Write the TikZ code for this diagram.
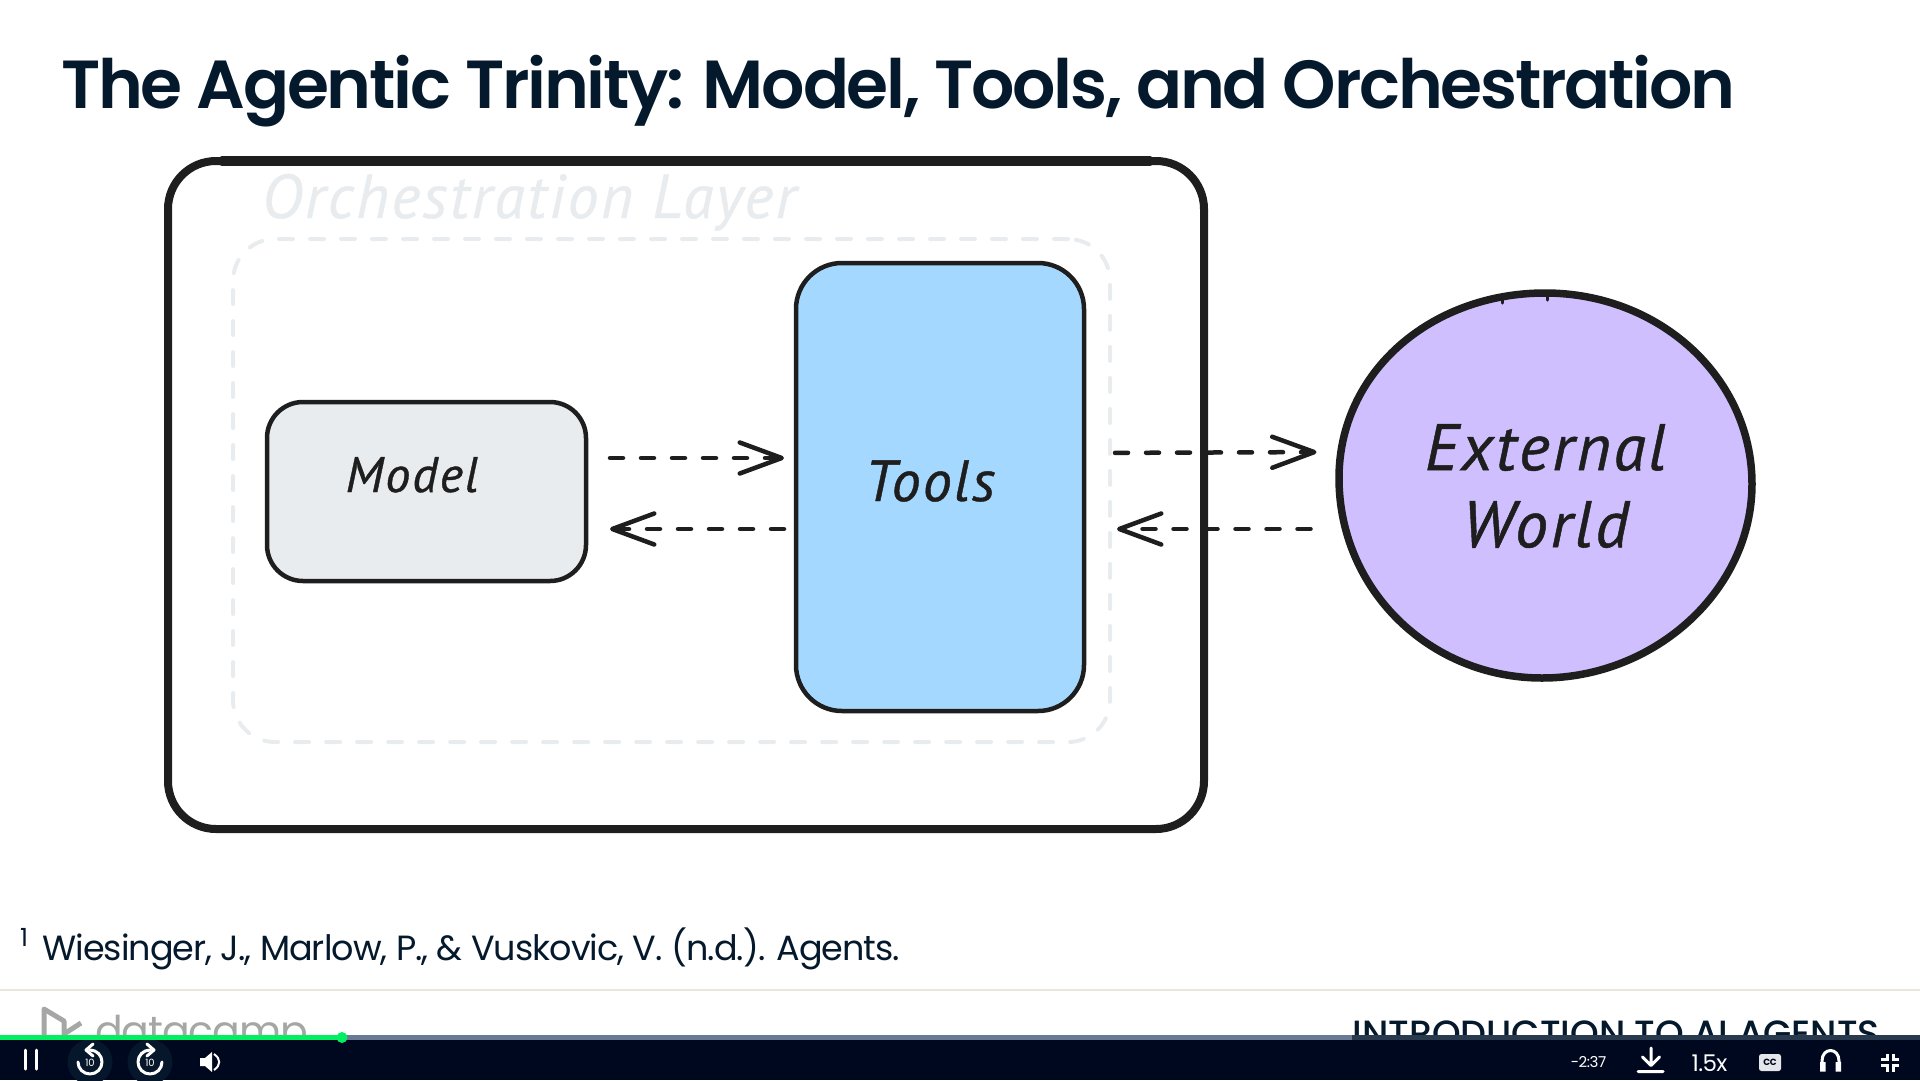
\documentclass[tikz,border=0pt]{standalone}
\usepackage{fontspec}
\setmainfont{Poppins}[LetterSpace=-2.8]
\newfontfamily\titlefont{Poppins SemiBold}[LetterSpace=-3.3]
\newfontfamily\coursefont{Poppins Medium}
\newfontfamily\handfont{PT Sans Italic}[FakeBold=0.7,LetterSpace=4]
\usetikzlibrary{positioning,shapes.geometric,arrows.meta}
\definecolor{Navy}{HTML}{05192D}
\definecolor{Ink}{HTML}{1E1E1E}
\definecolor{PaleGray}{HTML}{E9ECEF}
\definecolor{ToolBlue}{HTML}{A5D8FF}
\definecolor{WorldViolet}{HTML}{D0BFFF}
\definecolor{BarDark}{HTML}{000820}
\definecolor{DiscDark}{HTML}{06172B}
\tikzset{
  box/.style={draw=Ink,rectangle,inner sep=0,outer sep=0},
  hand/.style={font=\handfont,text=Ink,inner sep=0,anchor=base},
  flow/.style={draw=Ink,line width=4.5pt,dash pattern=on 13pt off 18pt,line cap=round,
    -{Straight Barb[length=42pt,width=31pt,line width=4.5pt,round]}},
  icon/.style={draw=white,line width=3pt,line cap=round,line join=round},
}
\begin{document}
\begin{tikzpicture}[x=1pt,y=-1pt]
  \useasboundingbox (0,0) rectangle (1920,1080);
  \node[font=\fontsize{68}{80}\selectfont\titlefont,text=Navy,inner sep=0,anchor=base west] (TitleText) at (61,108)
    {The Agentic Trinity: Model, Tools, and Orchestration};
  % sketch
  \node[box,line width=8pt,rounded corners=48pt,minimum width=1036pt,minimum height=668pt] (Outer) at (686,495) {};
  \draw[Ink,line width=9.5pt,line cap=round] ([xshift=54pt]Outer.north west) -- ([xshift=-54pt]Outer.north east);
  \node[rectangle,draw=PaleGray,line width=4pt,rounded corners=42pt,dash pattern=on 14pt off 17pt,line cap=round,
    inner sep=0,minimum width=877pt,minimum height=503pt] (Layer) at (671.5,490.5) {};
  \node[hand,text=PaleGray,font=\fontsize{62}{66}\selectfont\handfont] (LayerText) at (529,218) {Orchestration Layer};
  \node[box,fill=PaleGray,line width=4.5pt,rounded corners=36pt,minimum width=319pt,minimum height=179pt] (Model) at (426.5,491.5) {};
  \node[box,fill=ToolBlue,line width=4.5pt,rounded corners=46pt,minimum width=288pt,minimum height=448pt] (Tools) at (940,487) {};
  \node[hand,font=\fontsize{50}{60}\selectfont\handfont] (ModelText) at (412,492) {Model};
  \node[hand,font=\fontsize{58}{60}\selectfont\handfont] (ToolsText) at (930,501) {Tools};
  % hand drawn outline, node sits on top of it
  \draw[draw=Ink,fill=WorldViolet,line width=7.5pt] (1545,293) .. controls (1660,293) and (1752,378) .. (1752,484)
    .. controls (1752,590) and (1655,678) .. (1542,678) .. controls (1430,678) and (1339,590) .. (1339,478)
    .. controls (1339,372) and (1431,293) .. (1545,293) -- cycle;
  \draw[Ink,line width=3pt,line cap=round] (1502,298) -- (1502,303) (1547,295) -- (1547,300);
  \node[ellipse,inner sep=0,outer sep=0,minimum width=416pt,minimum height=392pt,align=center,
    font=\fontsize{66}{77}\selectfont\handfont,text=Ink] (World) at (1545.5,486) {External\\World};
  % arrows
  \draw[flow,shorten <=24pt,shorten >=12pt] ([yshift=33.5pt]Model.east) -- ([yshift=29pt]Tools.west);
  \draw[flow,shorten <=12pt,shorten >=24pt] ([yshift=-42pt]Tools.west) -- ([yshift=-37.5pt]Model.east);
  \draw[flow,shorten <=31pt,shorten >=21pt] ([yshift=34pt]Tools.east) -- ([yshift=34pt]World.west);
  \draw[flow,shorten <=27pt,shorten >=33pt] ([yshift=-43pt]World.west) -- ([yshift=-42pt]Tools.east);
  % footnote
  \node[font=\fontsize{35}{40}\selectfont,text=Navy,inner sep=0,anchor=base west] (Cite) at (42,960)
    {Wiesinger, J., Marlow, P., \& Vuskovic, V. (n.d.). Agents.};
  \node[font=\fontsize{25}{28}\selectfont,text=Navy,inner sep=0,anchor=base west] (CiteMark) at (20,946) {1};
  \draw[color={rgb,255:red,232;green,230;blue,223},line width=1.5pt] (0,990) -- (1920,990);
  % slide footer, cut by the player
  \draw[color=gray!70,line width=5pt,line join=round] (44,1040) -- (44,1009) -- (64,1021) -- (64,1040) (64,1034) -- (81,1023);
  \node[font=\fontsize{41}{48}\selectfont,text=gray!70,inner sep=0,anchor=base west] (Brand) at (95,1045) {datacamp};
  \node[font=\fontsize{36.5}{40}\selectfont\coursefont,text=Navy,inner sep=0,anchor=base east] (Course) at (1880,1046) {INTRODUCTION TO AI AGENTS};
  % player
  \fill[BarDark] (0,1040) rectangle (1920,1080);
  \fill[color={rgb,255:red,107;green,122;blue,148}] (342,1035) rectangle (1352,1040);
  \fill[color={rgb,255:red,42;green,58;blue,78}] (1352,1035) rectangle (1920,1040);
  \fill[color={rgb,255:red,3;green,239;blue,98}] (0,1035) rectangle (342,1040);
  \fill[color={rgb,255:red,3;green,239;blue,98}] (342,1037.5) circle (5.5pt);
  \draw[icon] (25.5,1050) -- (25.5,1069) (36,1050) -- (36,1069);
  \foreach \cx/\dir in {90/1,150/-1} {
    \begin{scope}
      \clip (\cx-24,1040) rectangle (\cx+24,1080);
      \fill[DiscDark] (\cx,1062) circle (22.5pt);
    \end{scope}
    \begin{scope}[shift={(\cx,1062)},xscale=\dir]
      \draw[icon] (0,-12) arc[start angle=90,end angle=-180,radius=12pt];
      \draw[icon] (3,-18) -- (-4,-12) -- (3,-6);
    \end{scope}
    \node[font=\fontsize{10}{10}\selectfont,text=white,inner sep=0] (Skip\cx) at (\cx,1063) {10};
  }
  \fill[white] (200,1058) -- (205,1058) -- (212,1052) -- (212,1072) -- (205,1066) -- (200,1066) -- cycle;
  \draw[white,line width=2pt] (214,1054) .. controls (221,1059) and (221,1065) .. (214,1070);
  \node[font=\fontsize{15}{16}\selectfont,text=white,inner sep=0] (TimeText) at (1588.5,1062) {-2:37};
  \draw[icon] (1651,1048) -- (1651,1065) (1642.5,1057) -- (1651,1065.5) -- (1659.5,1057) (1638,1071.5) -- (1663,1071.5);
  \node[font=\fontsize{23}{24}\selectfont,text=white,inner sep=0] (SpeedText) at (1709.5,1063) {1.5x};
  \node[fill=white!90!BarDark,rounded corners=2.5pt,inner sep=0,minimum width=22pt,minimum height=17pt,
    font=\bfseries\fontsize{9}{10}\selectfont,text=BarDark] (CC) at (1770,1062.5) {CC};
  \draw[icon] (1822,1068) -- (1822,1061) .. controls (1822,1047) and (1839,1047) .. (1839,1061) -- (1839,1068);
  \fill[white] (1820,1062) rectangle (1825.5,1071.5) (1835.5,1062) rectangle (1841,1071.5);
  \foreach \sx/\sy in {-1/-1,1/-1,1/1,-1/1} {
    \draw[icon,line cap=butt,line join=miter] (1890+\sx*9,1062.5+\sy*3) -- (1890+\sx*3,1062.5+\sy*3) -- (1890+\sx*3,1062.5+\sy*9);
  }
\end{tikzpicture}
\end{document}
